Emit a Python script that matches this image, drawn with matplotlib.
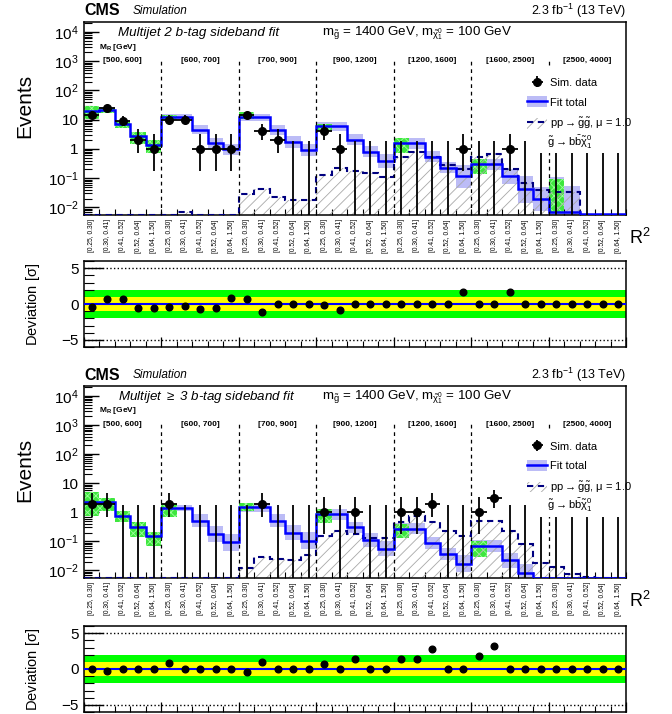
import numpy as np
import matplotlib
matplotlib.use('Agg')
import matplotlib.pyplot as plt
from matplotlib.patches import Patch, Rectangle
from matplotlib.lines import Line2D
from matplotlib.ticker import LogLocator, NullFormatter, MultipleLocator
from math import exp, factorial

plt.rcParams['font.family'] = ['Liberation Sans', 'DejaVu Sans']
plt.rcParams['mathtext.fontset'] = 'custom'
plt.rcParams['mathtext.rm'] = 'Liberation Sans'
plt.rcParams['mathtext.it'] = 'Liberation Sans:italic'
plt.rcParams['mathtext.bf'] = 'Liberation Sans:bold'
plt.rcParams['mathtext.default'] = 'regular'
plt.rcParams['hatch.linewidth'] = 0.6

mr_bins = ['[500, 600]', '[600, 700]', '[700, 900]', '[900, 1200]',
           '[1200, 1600]', '[1600, 2500]', '[2500, 4000]']
r2_bins = ['[0.25, 0.30]', '[0.30, 0.41]', '[0.41, 0.52]', '[0.52, 0.64]', '[0.64, 1.50]']

# ---- Multijet 2 b-tag ----
data_2b = [15, 25, 9, 2, 1, 10, 10, 1, 1, 1, 14, 4, 2, 0, 0, 4, 1, 0, 0, 0,
           0, 0, 0, 0, 1, 0, 0, 1, 0, 0, 0, 0, 0, 0, 0]
fit_2b = [19.5, 22, 6.9, 2.8, 1.4, 12.5, 12.5, 4.6, 1.6, 0.98, 12, 12, 4.6, 1.7, 0.9,
          6, 6, 2.1, 0.8, 0.39, 1.56, 1.56, 0.55, 0.23, 0.115, 0.30, 0.30, 0.115, 0.041, 0.0196,
          0.0069, 0.0069, 0.0058, 0.0058, 0.0058]
fit_unc_2b = [0.09, 0.09, 0.09, 0.11, 0.14, 0.09, 0.09, 0.14, 0.17, 0.19,
              0.11, 0.11, 0.17, 0.2, 0.2, 0.15, 0.15, 0.19, 0.19, 0.25,
              0.19, 0.19, 0.19, 0.19, 0.4, 0.19, 0.19, 0.25, 0.45, 0.4,
              1.2, 0.9, 0, 0, 0]
sig_2b = [0.0057, 0.0057, 0.0057, 0.0057, 0.0057, 0.0057, 0.0068, 0.0057, 0.0057, 0.0057,
          0.029, 0.041, 0.022, 0.018, 0.018, 0.13, 0.23, 0.17, 0.15, 0.11,
          0.51, 0.79, 0.52, 0.28, 0.21, 0.51, 0.66, 0.21, 0.07, 0.04,
          0.035, 0.035, 0.0057, 0.0057, 0.0057]
green_bins_2b = [0, 1, 2, 3, 4, 5, 10, 15, 20, 25, 30]
green_lo_2b = [11, 17, 5.2, 1.5, 0.71, 10, 10.2, 4.1, 0.75, 0.14, 0.007]
green_hi_2b = [29, 25, 9, 3.9, 2.1, 15, 18, 7.4, 2.4, 0.47, 0.093]
pull_2b = [-0.46, 0.65, 0.65, -0.6, -0.6, -0.4, -0.3, -0.65, -0.5, 0.83,
           0.7, -1.1, 0, 0, 0, -0.2, -0.85, 0, 0, 0,
           0, 0, 0, 0, 1.65, 0, 0, 1.65, 0, 0, 0, 0, 0, 0, 0]

# ---- Multijet >= 3 b-tag ----
data_3b = [2, 2, 0, 0, 0, 2, 0, 0, 0, 0, 0, 2, 0, 0, 0, 1, 0, 1, 0, 0,
           1, 1, 2, 0, 0, 1, 3, 0, 0, 0, 0, 0, 0, 0, 0]
fit_3b = [2.2, 2.2, 0.76, 0.30, 0.149, 1.4, 1.4, 0.51, 0.18, 0.093,
          1.5, 1.5, 0.51, 0.2, 0.105, 0.84, 0.84, 0.30, 0.11, 0.055,
          0.27, 0.27, 0.088, 0.036, 0.017, 0.068, 0.068, 0.022, 0.0083, 0.0057,
          0.0057, 0.0057, 0.0057, 0.0057, 0.0057]
fit_unc_3b = [0.1, 0.1, 0.1, 0.12, 0.14, 0.1, 0.1, 0.23, 0.28, 0.3,
              0.16, 0.16, 0.23, 0.26, 0.3, 0.2, 0.2, 0.2, 0.25, 0.26,
              0.19, 0.19, 0.21, 0.2, 0.3, 0.2, 0.2, 0.25, 0.3, 0,
              0, 0, 0, 0, 0]
sig_3b = [0.0057, 0.0057, 0.0057, 0.0057, 0.0057, 0.0057, 0.0057, 0.0057, 0.0057, 0.0057,
          0.012, 0.03, 0.024, 0.022, 0.033, 0.157, 0.22, 0.18, 0.126, 0.126,
          0.47, 0.76, 0.47, 0.23, 0.157, 0.51, 0.51, 0.23, 0.081, 0.018,
          0.013, 0.0075, 0.006, 0.0057, 0.0057]
green_bins_3b = [0, 1, 2, 3, 4, 5, 10, 15, 20, 25]
green_lo_3b = [0.76, 1.1, 0.45, 0.14, 0.071, 0.7, 1.1, 0.43, 0.13, 0.03]
green_hi_3b = [4.8, 3.2, 1.1, 0.45, 0.21, 1.9, 2.1, 1.3, 0.40, 0.1]
pull_3b = [0, -0.28, 0, 0, 0, 0.8, 0, 0, 0, 0,
           -0.4, 0.97, 0, 0, 0, 0.75, 0, 1.35, 0, 0,
           1.35, 1.35, 2.8, 0, 0, 1.85, 3.15, 0, 0, 0, 0, 0, 0, 0, 0]

YMIN, YMAX = 0.0055, 2.2e4


def poisson_cdf(k, mu):
    return sum(exp(-mu) * mu**i / factorial(i) for i in range(k + 1))


def garwood(n, a=0.15865):
    # central 68% poisson interval (as ROOT kPoisson)
    lo_mu, hi_mu = float(n), n + 30.0
    for _ in range(80):
        m = 0.5 * (lo_mu + hi_mu)
        if poisson_cdf(n, m) > a:
            lo_mu = m
        else:
            hi_mu = m
    up = 0.5 * (lo_mu + hi_mu)
    if n == 0:
        return 0.0, up
    lo_mu, hi_mu = 0.0, float(n)
    for _ in range(80):
        m = 0.5 * (lo_mu + hi_mu)
        if poisson_cdf(n - 1, m) > 1 - a:
            lo_mu = m
        else:
            hi_mu = m
    return 0.5 * (lo_mu + hi_mu), up


def draw_main(ax, data, fit, unc, sig, gbins, glo, ghi, title):
    edges = np.arange(36)
    centers = edges[:-1] + 0.5
    fit = np.array(fit)
    unc = np.array(unc)
    lo = fit / 10**unc
    hi = fit * 10**unc
    ax.bar(centers, hi - lo, bottom=lo, width=1.0, color='#bcbcf6', lw=0, zorder=1)
    ax.bar(np.array(gbins) + 0.5, np.array(ghi) - np.array(glo), bottom=glo, width=1.0,
           facecolor='#3ee63e', edgecolor='#9cff9c', hatch='xxxx', lw=0, zorder=2)
    ax.stairs(sig, edges, baseline=1e-6, fill=True, facecolor='none', edgecolor='#a8a8a8',
              hatch='///', lw=0, zorder=2)
    ax.stairs(sig, edges, baseline=None, color='#000080', ls=(0, (3, 2.2)), lw=1.5, zorder=3)
    ax.stairs(fit, edges, baseline=None, color='#0000ff', lw=1.8, zorder=4)

    # data points
    h_data = None
    for x, n in zip(centers, data):
        l, u = garwood(n)
        if n > 0:
            eb = ax.errorbar(x, n, yerr=[[n - l], [u - n]], xerr=0.5, fmt='o', color='k',
                             ms=5.5, elinewidth=1.3, capsize=0, zorder=6)
            if h_data is None:
                h_data = eb
        else:
            ax.vlines(x, 1e-6, u, color='k', lw=1.3, zorder=6)

    for k in range(1, 7):
        ax.axvline(5 * k, ymax=0.80, color='k', ls=(0, (3, 3)), lw=0.9, zorder=5)

    ax.set_xlim(0, 35)
    ax.set_yscale('log')
    ax.set_ylim(YMIN, YMAX)
    ax.set_yticks([1e-2, 1e-1, 1, 10, 1e2, 1e3, 1e4])
    ax.set_yticklabels([r'$10^{-2}$', r'$10^{-1}$', '1', '10', r'$10^{2}$', r'$10^{3}$', r'$10^{4}$'],
                       fontsize=11)
    ax.yaxis.set_minor_locator(LogLocator(base=10, subs=np.arange(2, 10), numticks=20))
    ax.yaxis.set_minor_formatter(NullFormatter())
    ax.tick_params(axis='y', which='major', direction='in', length=11, width=1.0, pad=4)
    ax.tick_params(axis='y', which='minor', direction='in', length=6, width=0.8)
    ax.set_xticks(centers)
    ax.set_xticklabels(r2_bins * 7, rotation=90, fontsize=4.8, va='top')
    ax.set_xticks(edges, minor=True)
    ax.tick_params(axis='x', which='major', length=0, pad=3)
    ax.tick_params(axis='x', which='minor', direction='in', length=4, width=0.8)
    for s in ax.spines.values():
        s.set_linewidth(1.1)

    # text
    ax.text(0, 1.057, 'CMS', transform=ax.transAxes, fontsize=11.5, fontweight='bold',
            ha='left', va='center')
    ax.text(0.089, 1.057, 'Simulation', transform=ax.transAxes, fontsize=8.5, style='italic',
            ha='left', va='center')
    ax.text(1.0, 1.057, r'2.3 fb$^{-1}$ (13 TeV)', transform=ax.transAxes, fontsize=9,
            ha='right', va='center')
    ax.text(0.063, 0.943, title, transform=ax.transAxes, fontsize=9.6, style='italic',
            ha='left', va='center')
    ax.text(0.439, 0.943, r'm$_{\tilde{g}}$ = 1400 GeV, m$_{\tilde{\chi}^{0}_{1}}$ = 100 GeV',
            transform=ax.transAxes, fontsize=9.6, ha='left', va='center')
    ax.text(0.028, 0.870, r'M$_\mathbf{R}$ [GeV]', transform=ax.transAxes, fontsize=6,
            fontweight='bold', ha='left', va='center')
    for k, lab in enumerate(mr_bins):
        ax.text(5 * k + 2.5, 0.798, lab, transform=ax.get_xaxis_transform(), fontsize=6,
                fontweight='bold', ha='center', va='center')
    ax.text(1.026, -0.119, r'R$^{2}$', transform=ax.transAxes, fontsize=13,
            ha='center', va='center')
    ax.text(-0.109, 0.565, 'Events', transform=ax.transAxes, fontsize=15, rotation=90,
            ha='center', va='center')

    # legend (white box as in ROOT TLegend)
    ax.add_patch(Rectangle((0.818, 0.32), 0.18, 0.44, transform=ax.transAxes,
                           facecolor='white', edgecolor='none', zorder=7))
    h_fit = (Patch(facecolor='#bcbcf6', lw=0), Line2D([], [], color='#0000ff', lw=1.8))
    h_sig = (Patch(facecolor='none', edgecolor='#a8a8a8', hatch='///', lw=0),
             Line2D([], [], color='#000080', ls=(0, (3, 2.2)), lw=1.5))
    leg = ax.legend([h_data, h_fit, h_sig],
                    ['Sim. data', 'Fit total', r'pp$\rightarrow\tilde{g}\tilde{g}$, $\mu$ = 1.0'],
                    loc='upper left', bbox_to_anchor=(0.818, 0.715), frameon=False, fontsize=8,
                    borderpad=0, borderaxespad=0, handlelength=1.8, handleheight=1.1,
                    handletextpad=0.25, labelspacing=0.75)
    leg.set_zorder(8)
    ax.text(0.854, 0.378, r'$\tilde{g}\rightarrow b\bar{b}\tilde{\chi}^{0}_{1}$',
            transform=ax.transAxes, fontsize=8, ha='left', va='center', zorder=8)


def draw_pull(ax, pull):
    edges = np.arange(36)
    centers = edges[:-1] + 0.5
    ax.axhspan(-2, 2, color='#00ff00', lw=0, zorder=1)
    ax.axhspan(-1, 1, color='#ffff00', lw=0, zorder=2)
    ax.axhline(0, color='#0000ff', lw=1.5, zorder=3)
    ax.axhline(5, color='k', ls=':', lw=1.0, zorder=3)
    ax.axhline(-5, color='k', ls=':', lw=1.0, zorder=3)
    ax.plot(centers, pull, 'o', color='k', ms=4.8, zorder=4)
    ax.set_xlim(0, 35)
    ax.set_ylim(-6, 6)
    ax.set_yticks([-5, 0, 5])
    ax.set_yticklabels(['\u22125', '0', '5'], fontsize=11)
    ax.yaxis.set_minor_locator(MultipleLocator(1))
    ax.tick_params(axis='y', which='major', direction='in', length=14, width=1.0, pad=4)
    ax.tick_params(axis='y', which='minor', direction='in', length=7, width=0.8)
    ax.set_xticks(np.arange(0, 36, 5))
    ax.set_xticklabels([])
    ax.set_xticks(edges, minor=True)
    ax.tick_params(axis='x', which='major', direction='in', length=7, width=0.9)
    ax.tick_params(axis='x', which='minor', direction='in', length=4, width=0.8)
    for s in ax.spines.values():
        s.set_linewidth(1.1)
    ax.text(-0.094, 0.5, r'Deviation [$\sigma$]', transform=ax.transAxes, fontsize=10.5,
            rotation=90, ha='center', va='center')


if __name__ == '__main__':
    fig = plt.figure(figsize=(6.72, 7.14), dpi=100)
    L, W = 84 / 672., 542 / 672.
    ax1 = fig.add_axes([L, 1 - 215 / 714., W, 193 / 714.])
    ax1p = fig.add_axes([L, 1 - 347 / 714., W, 86 / 714.])
    ax2 = fig.add_axes([L, 1 - 578 / 714., W, 192 / 714.])
    ax2p = fig.add_axes([L, 1 - 712 / 714., W, 86 / 714.])

    draw_main(ax1, data_2b, fit_2b, fit_unc_2b, sig_2b, green_bins_2b, green_lo_2b, green_hi_2b,
              'Multijet 2 b-tag sideband fit')
    draw_pull(ax1p, pull_2b)
    draw_main(ax2, data_3b, fit_3b, fit_unc_3b, sig_3b, green_bins_3b, green_lo_3b, green_hi_3b,
              r'Multijet $\geq$ 3 b-tag sideband fit')
    draw_pull(ax2p, pull_3b)

    fig.savefig('out.png', dpi=100)
